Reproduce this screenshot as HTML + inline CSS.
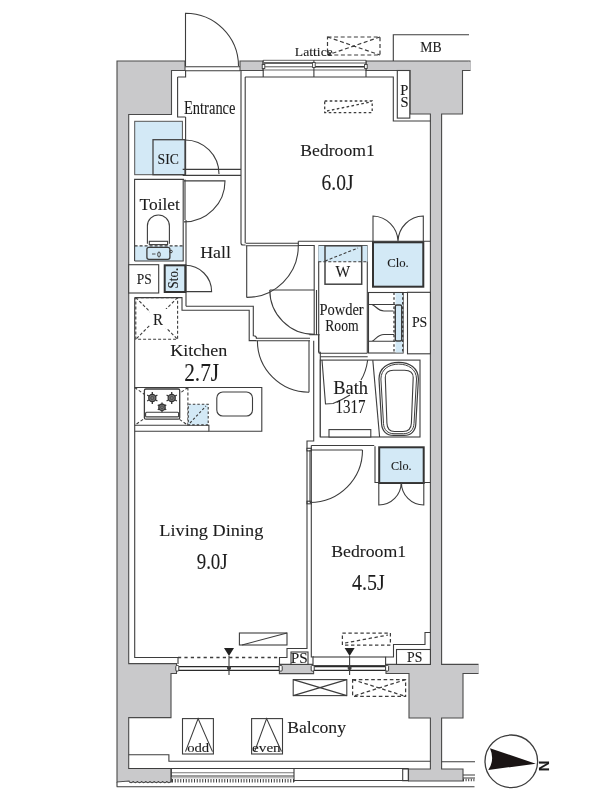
<!DOCTYPE html>
<html><head><meta charset="utf-8">
<style>
html,body{margin:0;padding:0;background:#fff;}
svg{display:block;will-change:transform;}
text{font-family:"Liberation Serif",serif;fill:#1c1c1c;stroke:#1c1c1c;stroke-width:0.1px;}
</style></head>
<body>
<svg width="600" height="800" viewBox="0 0 600 800">
<g fill="none" stroke="#3d3d3d" stroke-width="1.1">

<!-- ===== STRUCTURAL GRAY WALLS ===== -->
<g fill="#c9c9cb" stroke="#4a4a4a" stroke-width="1.1">
  <!-- left wall -->
  <path d="M117,61 H185 V70.5 H171.5 V114.5 H128.7 V663.6 H176.5 V673.5 H171 V717.6 H128.7 V768.5 H171 V781 a2.1,1.6 0 0 1 -4.2,0 a2.1,1.6 0 0 1 -4.2,0 a2.1,1.6 0 0 1 -4.2,0 a2.1,1.6 0 0 1 -4.2,0 a2.1,1.6 0 0 1 -4.2,0 a2.1,1.6 0 0 1 -4.2,0 a2.1,1.6 0 0 1 -4.2,0 a2.1,1.6 0 0 1 -4.2,0 a2.1,1.6 0 0 1 -4.2,0 a2.1,1.6 0 0 1 -4.2,0 L117,782 Z"/>
  <!-- top middle jamb -->
  <path d="M240,61 H263 V70.5 H240 Z"/>
  <!-- top right -->
  <path d="M366,61 H470 V70.5 H462.5 V114 H441.6 V664.4 H478 V673.5 H463 V718 H441.6 V769 H463 V781 H408.5 V769 H430.4 V718 H409 V673.5 H386 V664.4 H430.4 V114 H410 V70.5 H366 Z"/>
  <!-- open ends -->
  <rect x="468.3" y="61.7" width="2.5" height="8.3" stroke="none"/>
  <rect x="476.5" y="665" width="2.5" height="8" stroke="none"/>
  <!-- bottom middle strip around PS -->
  <path d="M279.4,664.4 H313.6 V673.6 H279.4 Z"/>
</g>

<!-- ===== TOP: entrance door, lattice window, MB ===== -->
<path d="M185.5,66 V13.3 A53,53 0 0 1 238.5,66"/>
<path d="M185,66.7 H240 M185,70.8 H240"/>
<!-- window -->
<rect x="263.2" y="60.3" width="102.8" height="9.7" fill="#fff" stroke="none"/>
<path d="M263.2,60.3 H366 M263.2,70 H366" stroke="#666" stroke-width="1"/>
<path d="M264,63 H313.9 M313.9,66.8 H366" stroke="#333" stroke-width="1.4"/>
<path d="M264,66.8 H313.9 M313.9,63 H366" stroke="#555" stroke-width="1"/>
<path d="M263.2,60.3 V77 M313.9,60.3 V77 M366,60.3 V77"/>
<rect x="262.2" y="64.5" width="2.6" height="4" fill="#fff" stroke-width="0.9"/>
<rect x="312.6" y="62.5" width="2.6" height="5" fill="#fff" stroke-width="0.9"/>
<rect x="364.6" y="64.5" width="2.6" height="4" fill="#fff" stroke-width="0.9"/>
<!-- lattice dashed -->
<g stroke-dasharray="4,2.6" stroke-width="1.2">
<rect x="327.5" y="37" width="52.5" height="18"/>
<path d="M327.5,37 L380,55 M380,37 L327.5,55"/>
</g>
<circle cx="330" cy="53.7" r="1.2" fill="#3d3d3d" stroke="none"/>
<!-- MB box -->
<path d="M393.3,61 V34.8 H469"/>

<g stroke-dasharray="2.6,2.4" stroke-width="1.3">
<rect x="324.7" y="101" width="47.5" height="11.6"/>
<path d="M327,111 L371,102"/>
</g>
<!-- ===== ENTRANCE / SIC ===== -->
<path d="M177.6,77 V117 H185.6 M177.6,77 H185.6 V70.5"/>
<path d="M241,70.5 V243 Q241,245 243,245 H245.5 M245.2,77 V243.3 M245.2,77 H393.3 V121 H430.4"/>
<path d="M128.7,114.5"/>
<!-- SIC -->
<rect x="134.7" y="121.3" width="47.7" height="53.4" fill="#d3e9f6" stroke="#555" stroke-width="1"/>
<rect x="153" y="139.7" width="32" height="35" fill="#d3e9f6" stroke="#444" stroke-width="1.3"/>
<path d="M185,140 A34,34 0 0 1 219,174"/>
<path d="M185.6,117 V175 M182.7,169.4 H241 M182.7,175.4 H241"/>
<!-- PS top -->
<rect x="397.3" y="70.5" width="12.5" height="47.6" fill="#fff"/>

<!-- ===== TOILET ===== -->
<rect x="134.6" y="245.9" width="48.6" height="15.1" fill="#d3e9f6" stroke="none"/>
<path d="M134.6,261 V179.4 H184 M183.2,179.4 V261 H134.6"/>
<path d="M134.6,245.9 H183.2" stroke-dasharray="3,2"/>
<path d="M185,179.4 V220 M186,220 V306.3"/>
<path d="M184,180.9 H225 A41,41 0 0 1 184,221.9"/>
<path d="M147.4,243.7 V226 A11,11 0 0 1 169.4,226 V243.7"/>
<rect x="149.3" y="241.3" width="18.3" height="3.3" fill="#fff"/>
<rect x="146.9" y="247.3" width="23" height="12" rx="2" fill="#d3e9f6" stroke-width="1.3"/>
<ellipse cx="159" cy="254.5" rx="1.3" ry="2.6" stroke-width="1"/>
<path d="M152,254 H155.5" stroke-width="0.9"/>
<circle cx="171" cy="251.5" r="1.3" stroke-width="1"/>

<!-- PS & Sto -->
<rect x="128.7" y="264.7" width="30" height="28.3" fill="#fff"/>
<rect x="164.7" y="265.3" width="20.6" height="26.7" fill="#d3e9f6" stroke="#333" stroke-width="2"/>
<path d="M185.3,265.3 A26.3,26.3 0 0 1 211.6,291.6 H185.3"/>

<!-- Hall / kitchen wall -->
<path d="M134.7,297.6 H182 V310.2 H249.2 V340.6 H256"/>
<path d="M186,306.3 H253.3 V335.7 Q256.5,335.7 256.5,338.3"/>
<!-- R fridge -->
<g stroke-dasharray="3,2">
<rect x="135.8" y="297.6" width="41.8" height="41.7"/>
<path d="M135.8,297.6 L177.6,339.3 M177.6,297.6 L135.8,339.3"/>
</g>
<rect x="150" y="309" width="17" height="19" fill="#fff" stroke="none"/>

<!-- ===== BEDROOM1 (top) bottom wall, doors ===== -->
<path d="M245.8,243.3 H298.3 M245.8,245.8 H298.3"/>
<path d="M246.7,245.8 V297.5"/>
<path d="M298.3,245.8 A51.6,51.6 0 0 1 246.7,297.4"/>
<path d="M298.3,241.3 H430.4"/>
<path d="M298.3,241.3 V245.5 H314.2 V334.7 M309.3,334.7 H319.7 M316.5,290 V334.7"/>
<!-- powder door -->
<path d="M314.2,290 H269.8"/>
<path d="M269.8,290 A44.4,44.4 0 0 0 314.2,334.4"/>
<!-- LD door -->
<path d="M255.8,338.3 H310 M255.8,340.8 H310"/>
<path d="M309,340.8 V392.2"/>
<path d="M257.4,340.8 A51.5,51.5 0 0 0 309,392.2"/>
<path d="M313.7,340.7 V441 H307 V450 M318.7,334.7 V352.3 H320.3 V437"/>
<rect x="307" y="448.3" width="4.3" height="2.6" fill="#fff"/>
<rect x="307" y="501.2" width="4.3" height="2.6" fill="#fff"/>

<!-- ===== POWDER ROOM ===== -->
<path d="M318.7,245.5 V352.3 M367.3,245.5 V353.3 M318.7,245.5 H367.3"/>
<rect x="318.3" y="245.8" width="49.2" height="15.9" fill="#d3e9f6" stroke="none"/>
<path d="M318.3,261.7 H367.5" stroke-dasharray="3,2"/>
<rect x="325" y="245.8" width="36.7" height="38.4" fill="none" stroke="#444" stroke-width="1.5"/>
<path d="M325,261 L358,248" stroke-dasharray="3,2"/>
<!-- Clo top -->
<rect x="373" y="242.3" width="50.3" height="44.4" fill="#d3e9f6" stroke="#333" stroke-width="2"/>
<path d="M373,242 V216 A26,26 0 0 1 398,241 M423.3,242 V216 A26,26 0 0 0 398,241"/>
<path d="M367.5,292.5 H430.4"/>
<!-- vanity -->
<rect x="368.5" y="292.5" width="34.6" height="60.5" fill="#fff"/>
<rect x="395.5" y="293" width="7.4" height="59.5" fill="#d3e9f6" stroke="none"/>
<path d="M394,292.5 V353 M402.7,292.5 V353" stroke-dasharray="2.5,2.2" stroke-width="1.3"/>
<path d="M368.5,304.5 H395.3 M372,304.5 C376,306 378,311 384,311 H393.5 M368.5,341.3 H395.3 M372,341.3 C376,339 378,334.5 384,334.5 H394"/>
<rect x="395.3" y="305" width="6.4" height="36" rx="1.5" fill="#d3e9f6" stroke-width="1.4"/>
<!-- PS right -->
<rect x="407.5" y="292.3" width="22.9" height="61.5" fill="#fff"/>

<!-- ===== BATH ===== -->
<path d="M320.3,356.7 H367.7 M318.7,353.3 H367.3"/>
<rect x="320.3" y="360.1" width="99.7" height="76.9" fill="#fff"/>
<path d="M372.8,360.1 L379.6,437"/>
<path d="M379,379 C379,368 388,362.3 398.7,362.3 C409.4,362.3 418.4,368 418.4,379 L415.8,424 C415.5,431 411,435.4 404,435.4 H393.5 C386.5,435.4 382,431 381.6,424 Z" fill="#fff" stroke-width="1.2"/>
<path d="M380.9,379 C380.9,369.5 389,364.1 398.7,364.1 C408.4,364.1 416.5,369.5 416.5,379 L414,423.5 C413.7,429.8 409.8,433.7 403.6,433.7 H394 C387.8,433.7 383.8,429.8 383.5,423.5 Z" stroke-width="1"/>
<path d="M385.3,377.5 C385.3,372.5 388.5,370.2 393.5,370.2 H404.5 C409.5,370.2 413.2,372.5 413.2,377.5 L411.4,423 C411.2,428.5 408.3,431.5 403,431.5 H394.5 C389.5,431.5 387.1,428.5 386.9,423 Z" stroke-width="1.1"/>
<rect x="329" y="429.6" width="41.8" height="7.4" fill="#fff"/>
<path d="M322,360 L325.5,404 L333,403.5 Q342,400 350,395"/>
<path d="M367.7,360 Q366,372 361,380"/>

<!-- ===== KITCHEN ===== -->
<path d="M134.7,387.5 H261.8 V431.2 H208.9 V425.3 H134.7"/>
<path d="M134.7,431.2 H208.9"/>
<path d="M134.7,297.6 V657.5 H178"/>
<g stroke-dasharray="3,2">
<path d="M187.9,387.5 V425.3 M134.7,387.5 L187.9,425.3 M187.9,387.5 L134.7,425.3"/>
</g>
<rect x="144.4" y="389" width="35.3" height="30.2" rx="1.5" fill="#fff" stroke-width="1.3"/>
<rect x="145.6" y="412.3" width="33" height="4.6" rx="1" fill="#fff"/>
<g><circle cx="152.3" cy="398" r="3.6" fill="#777" stroke="#333" stroke-width="1.2"/><circle cx="152.3" cy="398" r="1.62" fill="none" stroke="#444" stroke-width="0.8"/><path d="M152.30,394.40 L152.30,392.10 M155.42,396.20 L157.41,395.05 M155.42,399.80 L157.41,400.95 M152.30,401.60 L152.30,403.90 M149.18,399.80 L147.19,400.95 M149.18,396.20 L147.19,395.05" stroke="#333" stroke-width="1.3"/><circle cx="171.7" cy="398" r="3.6" fill="#777" stroke="#333" stroke-width="1.2"/><circle cx="171.7" cy="398" r="1.62" fill="none" stroke="#444" stroke-width="0.8"/><path d="M171.70,394.40 L171.70,392.10 M174.82,396.20 L176.81,395.05 M174.82,399.80 L176.81,400.95 M171.70,401.60 L171.70,403.90 M168.58,399.80 L166.59,400.95 M168.58,396.20 L166.59,395.05" stroke="#333" stroke-width="1.3"/><circle cx="162" cy="407.3" r="3.2" fill="#777" stroke="#333" stroke-width="1.2"/><circle cx="162" cy="407.3" r="1.44" fill="none" stroke="#444" stroke-width="0.8"/><path d="M162.00,404.10 L162.00,402.40 M164.77,405.70 L166.24,404.85 M164.77,408.90 L166.24,409.75 M162.00,410.50 L162.00,412.20 M159.23,408.90 L157.76,409.75 M159.23,405.70 L157.76,404.85" stroke="#333" stroke-width="1.3"/></g>
<rect x="188.3" y="404.3" width="19.9" height="20.6" fill="#d3e9f6" stroke-dasharray="2.5,2"/>
<path d="M190,423 L206,406" stroke-dasharray="2.5,2"/>
<rect x="216.8" y="392" width="35.7" height="24" rx="6" fill="#fff"/>

<!-- ===== LD / BEDROOM2 wall ===== -->
<path d="M307,450 V648.5 H287 V657.5 H279.5 V664.4 M311.3,445.5 V657 H314"/>
<path d="M311.3,445.5 H374.2 M311.3,450 H362.5"/>
<rect x="379.2" y="447.3" width="44.5" height="35.7" fill="#d3e9f6" stroke="#333" stroke-width="2"/>
<path d="M375,446.3 V482.5 H430.4"/>
<path d="M378.8,482.5 V505 A22.4,22.4 0 0 0 401.2,482.5 M423.8,482.5 V505 A22.4,22.4 0 0 1 401.4,482.5"/>
<!-- bedroom2 door -->
<path d="M310,450 V502.5"/>
<path d="M362.5,450 A52.5,52.5 0 0 1 310,502.5"/>

<!-- ===== BOTTOM: windows ===== -->
<path d="M178,657.5 H279.5" stroke-dasharray="3.2,3.2" stroke-width="1.3"/>
<path d="M178,657.5 V664"/>
<path d="M177,666.6 H281 M177,670.4 H281" stroke="#2a2a2a" stroke-width="1.3"/>
<rect x="175.8" y="665.5" width="3" height="5.6" rx="1" fill="#fff" stroke-width="1"/>
<rect x="279.2" y="665.5" width="3" height="5.6" rx="1" fill="#fff" stroke-width="1"/>
<path d="M229,656 V675"/>
<circle cx="229" cy="668" r="1.5" fill="#3d3d3d"/>
<path d="M224,648 H234 L229,656 Z" fill="#222" stroke="none"/>
<rect x="239.4" y="633" width="47.6" height="12"/>
<path d="M242,645 L287,633"/>
<rect x="291" y="652" width="17" height="12.4" fill="#fff"/>

<rect x="313" y="657" width="72.6" height="8.6" fill="#fff"/>
<path d="M312,666.6 H388 M312,670.4 H388" stroke="#2a2a2a" stroke-width="1.3"/>
<rect x="311.2" y="665.5" width="3" height="5.6" rx="1" fill="#fff" stroke-width="1"/>
<rect x="385.6" y="665.5" width="3" height="5.6" rx="1" fill="#fff" stroke-width="1"/>
<path d="M349.6,656 V675"/>
<circle cx="349.6" cy="668" r="1.5" fill="#3d3d3d"/>
<path d="M344.6,648 H354.6 L349.6,656 Z" fill="#222" stroke="none"/>
<g stroke-dasharray="3.4,2.6" stroke-width="1.25">
<rect x="342.4" y="633" width="48" height="12"/>
<path d="M345,643 L388,635"/>
</g>
<path d="M430.4,632.5 H425 V644.5 H393.5 V657 H385.6"/>
<rect x="396.5" y="649.5" width="33.9" height="14.9" fill="#fff"/>

<!-- ===== BALCONY ===== -->
<rect x="293.2" y="679.6" width="53.6" height="16"/>
<path d="M293.2,679.6 L346.8,695.6 M346.8,679.6 L293.2,695.6"/>
<g stroke-dasharray="3.6,2.6" stroke-width="1.25">
<rect x="352.6" y="679.6" width="53" height="16.8"/>
<path d="M352.6,679.6 L405.6,696.4 M405.6,679.6 L352.6,696.4"/>
</g>
<path d="M128.7,754.7 H168.9 V761.2 H430.4 M441.6,761.7 H475"/>
<path d="M128.7,768.5 H408.5"/>
<rect x="182.5" y="718.6" width="30.9" height="35.4"/>
<path d="M185.5,751.6 L198.1,718.6 L212.5,751.6"/>
<rect x="251.6" y="718.6" width="30.9" height="35.4"/>
<path d="M254.6,751.6 L266.6,718.6 L281.5,751.6"/>
<!-- railing -->
<path d="M171,772.8 H294" stroke="#777"/>
<path d="M171,776 H294 M171.3,768.5 V782.5 M294,768.5 V782 M294,780.5 H408.5"/>
<path d="M171,777.8 H294" stroke="#888" stroke-width="0.8"/>
<path d="M172,780.7 H294" stroke-dasharray="1,1.75" stroke-width="3.4"/>
<rect x="402.7" y="769" width="5.6" height="11.7"/>
<path d="M116.7,786.8 H474.5 M117,782 V786.8"/>
<path d="M463,775 H475 M463,778 H475"/>
<path d="M463,780 H475" stroke-dasharray="1,1.6" stroke-width="2.5"/>

<!-- ===== COMPASS ===== -->
<circle cx="511.3" cy="761.3" r="26.3" stroke-width="1.3"/>
<path d="M490,748.3 L535.8,763.7 L488.3,770 Q495,760 490,748.3 Z" fill="#1a1414" stroke="none"/>
</g>

<!-- ===== TEXT ===== -->
<g>
<text x="294.8" y="56.4" font-size="13" textLength="38" lengthAdjust="spacingAndGlyphs">Lattice</text>
<text x="420.3" y="51.8" font-size="14.5" textLength="21.3" lengthAdjust="spacingAndGlyphs">MB</text>
<text x="400.2" y="94.6" font-size="14.5">P</text>
<text x="400.4" y="106.8" font-size="14.5">S</text>
<text x="184" y="114.4" font-size="18.5" textLength="51.5" lengthAdjust="spacingAndGlyphs">Entrance</text>
<text x="300.3" y="155.5" font-size="17.5" textLength="74.5" lengthAdjust="spacingAndGlyphs">Bedroom1</text>
<text x="321.5" y="189.6" font-size="23.5" textLength="32" lengthAdjust="spacingAndGlyphs">6.0J</text>
<text x="157.6" y="163.6" font-size="14" textLength="21.3" lengthAdjust="spacingAndGlyphs">SIC</text>
<text x="139.6" y="210.4" font-size="17.5" textLength="40.3" lengthAdjust="spacingAndGlyphs">Toilet</text>
<text x="200.2" y="258.4" font-size="17.5" textLength="30.8" lengthAdjust="spacingAndGlyphs">Hall</text>
<text x="335.6" y="277.4" font-size="16.5" textLength="14.6" lengthAdjust="spacingAndGlyphs">W</text>
<text x="387.2" y="267" font-size="13.5" textLength="21.6" lengthAdjust="spacingAndGlyphs">Clo.</text>
<text x="136.8" y="284" font-size="14" textLength="15" lengthAdjust="spacingAndGlyphs">PS</text>
<text transform="translate(178.4,288.4) rotate(-90)" font-size="15" textLength="20.6" lengthAdjust="spacingAndGlyphs">Sto.</text>
<text x="153" y="324.7" font-size="16" textLength="10" lengthAdjust="spacingAndGlyphs">R</text>
<text x="319.4" y="315" font-size="17.5" textLength="44.3" lengthAdjust="spacingAndGlyphs">Powder</text>
<text x="325.2" y="331" font-size="17.5" textLength="33.4" lengthAdjust="spacingAndGlyphs">Room</text>
<text x="411.9" y="326.5" font-size="14" textLength="15.4" lengthAdjust="spacingAndGlyphs">PS</text>
<text x="170.3" y="356" font-size="17" textLength="57" lengthAdjust="spacingAndGlyphs">Kitchen</text>
<text x="184.2" y="381.2" font-size="24.5" textLength="35" lengthAdjust="spacingAndGlyphs">2.7J</text>
<text x="333.2" y="393.7" font-size="18" textLength="34.8" lengthAdjust="spacingAndGlyphs">Bath</text>
<text x="335.6" y="412.7" font-size="18.5" textLength="30" lengthAdjust="spacingAndGlyphs">1317</text>
<text x="391" y="470.2" font-size="13.5" textLength="20.6" lengthAdjust="spacingAndGlyphs">Clo.</text>
<text x="159.3" y="536.2" font-size="16.5" textLength="104" lengthAdjust="spacingAndGlyphs">Living Dining</text>
<text x="196.7" y="569" font-size="24" textLength="31" lengthAdjust="spacingAndGlyphs">9.0J</text>
<text x="331.2" y="556.9" font-size="17.5" textLength="75" lengthAdjust="spacingAndGlyphs">Bedroom1</text>
<text x="352" y="590.2" font-size="24" textLength="32.7" lengthAdjust="spacingAndGlyphs">4.5J</text>
<text x="290.8" y="662.9" font-size="15.5" textLength="17" lengthAdjust="spacingAndGlyphs">PS</text>
<text x="407" y="661.5" font-size="14.5" textLength="15.3" lengthAdjust="spacingAndGlyphs">PS</text>
<text x="287.2" y="732.6" font-size="17.5" textLength="58.8" lengthAdjust="spacingAndGlyphs">Balcony</text>
<text x="187.2" y="751.8" font-size="12.5" textLength="22" lengthAdjust="spacingAndGlyphs">odd</text>
<text x="252.1" y="751.8" font-size="12.5" textLength="28.6" lengthAdjust="spacingAndGlyphs">even</text>
<text transform="translate(539.3,760.6) rotate(90)" font-size="15" font-weight="bold" style="font-family:'Liberation Sans',sans-serif" fill="#111">N</text>
</g>
</svg>
</body></html>
